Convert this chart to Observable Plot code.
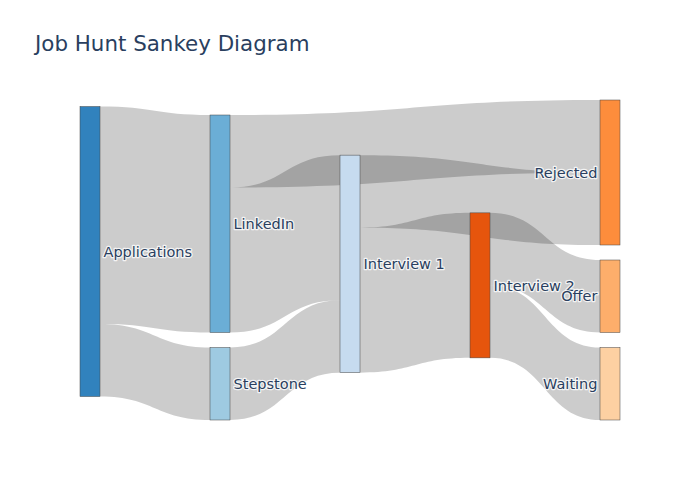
<!DOCTYPE html>
<html>
<head>
<meta charset="utf-8">
<script src="https://cdn.jsdelivr.net/npm/d3@7"></script>
<script src="https://cdn.jsdelivr.net/npm/@observablehq/plot@0.6"></script>
<style>
  body { margin: 0; background: #fff; }
  #wrap { position: relative; width: 700px; height: 500px; }
  #title { position: absolute; left: 35px; top: 31px; font: 21.4px "DejaVu Sans", sans-serif; color: #2a3f5f; }
</style>
</head>
<body>
<div id="wrap">
  <div id="title">Job Hunt Sankey Diagram</div>
  <div id="chart"></div>
</div>
<script>
// nodes and flows
const labels = ["Applications", "LinkedIn", "Stepstone", "Interview 1", "Interview 2", "Rejected", "Offer", "Waiting"];
const colors = ["#3182bd", "#6baed6", "#9ecae1", "#c6dbef", "#e6550d", "#fd8d3c", "#fdae6b", "#fdd0a2"];
const sources = ["Applications", "Applications", "LinkedIn", "LinkedIn", "Stepstone", "Interview 1", "Interview 1", "Interview 2", "Interview 2"];
const targets = ["LinkedIn", "Stepstone", "Rejected", "Interview 1", "Interview 1", "Rejected", "Interview 2", "Offer", "Waiting"];
const values = [15, 5, 5, 10, 5, 5, 10, 5, 5];

// layout (same idea as plotly's d3-sankey): y runs 0..1, x is the column index
const pad = 15 / 320, nodeW = 20 / 130, iterations = 50;

const nodes = labels.map((name, i) => ({name, color: colors[i], sourceLinks: [], targetLinks: []}));
const byName = new Map(nodes.map(n => [n.name, n]));
const links = values.map((value, i) => {
  const l = {source: byName.get(sources[i]), target: byName.get(targets[i]), value, id: i};
  l.source.sourceLinks.push(l);
  l.target.targetLinks.push(l);
  return l;
});
nodes.forEach(n => n.value = Math.max(d3.sum(n.sourceLinks, l => l.value), d3.sum(n.targetLinks, l => l.value)));

// depth, then sinks pushed to the last column
function depth(n) { return n.targetLinks.length ? 1 + d3.max(n.targetLinks, l => depth(l.source)) : 0; }
nodes.forEach(n => n.layer = depth(n));
const last = d3.max(nodes, n => n.layer);
nodes.forEach(n => { if (!n.sourceLinks.length) n.layer = last; });

const columns = d3.range(last + 1).map(k => nodes.filter(n => n.layer === k));
const ky = d3.min(columns, c => (1 - (c.length - 1) * pad) / d3.sum(c, n => n.value));
columns.forEach(c => c.forEach((n, i) => { n.y0 = i; n.y1 = i + n.value * ky; }));
links.forEach(l => l.width = l.value * ky);

const center = n => (n.y0 + n.y1) / 2;
function resolve() {
  columns.forEach(c => {
    c.sort((a, b) => a.y0 - b.y0);
    let y = 0, n;
    for (n of c) {
      const dy = y - n.y0;
      if (dy > 0) { n.y0 += dy; n.y1 += dy; }
      y = n.y1 + pad;
    }
    let dy = y - pad - 1;
    if (dy > 0) {
      n.y0 -= dy; n.y1 -= dy; y = n.y0;
      for (let i = c.length - 2; i >= 0; --i) {
        const m = c[i];
        dy = m.y1 + pad - y;
        if (dy > 0) { m.y0 -= dy; m.y1 -= dy; }
        y = m.y0;
      }
    }
  });
}
resolve();
for (let alpha = 1, k = iterations; k > 0; --k) {
  alpha *= 0.99;
  columns.slice().reverse().forEach(c => c.forEach(n => {
    if (!n.sourceLinks.length) return;
    const dy = (d3.sum(n.sourceLinks, l => center(l.target) * l.value) / d3.sum(n.sourceLinks, l => l.value) - center(n)) * alpha;
    n.y0 += dy; n.y1 += dy;
  }));
  resolve();
  columns.forEach(c => c.forEach(n => {
    if (!n.targetLinks.length) return;
    const dy = (d3.sum(n.targetLinks, l => center(l.source) * l.value) / d3.sum(n.targetLinks, l => l.value) - center(n)) * alpha;
    n.y0 += dy; n.y1 += dy;
  }));
  resolve();
}
nodes.forEach(n => {
  n.sourceLinks.sort((a, b) => a.target.y0 - b.target.y0);
  n.targetLinks.sort((a, b) => a.source.y0 - b.source.y0);
  let y = n.y0;
  n.sourceLinks.forEach(l => { l.sy = y; y += l.width; });
  y = n.y0;
  n.targetLinks.forEach(l => { l.ty = y; y += l.width; });
});

// two points per ribbon, curved with bump-x
const ribbons = links.flatMap(l => [
  {id: l.id, x: l.source.layer + nodeW / 2, top: l.sy, bottom: l.sy + l.width},
  {id: l.id, x: l.target.layer - nodeW / 2, top: l.ty, bottom: l.ty + l.width}
]);
const lastCol = nodes.filter(n => n.layer === last);
const otherCols = nodes.filter(n => n.layer !== last);

const chart = Plot.plot({
  width: 700,
  height: 500,
  margin: 0,
  style: {fontFamily: "DejaVu Sans, sans-serif", background: "white"},
  x: {domain: [0, last], range: [90, 610], axis: null},
  y: {domain: [0, 1], range: [100, 420], axis: null},
  marks: [
    Plot.areaY(ribbons, {x: "x", y1: "top", y2: "bottom", z: "id", curve: "bump-x", fill: "black", fillOpacity: 0.2}),
    Plot.rect(nodes, {
      x1: d => d.layer - nodeW / 2, x2: d => d.layer + nodeW / 2,
      y1: "y0", y2: "y1", fill: "color", stroke: "#444", strokeWidth: 0.5, inset: 0
    }),
    Plot.text(otherCols, {
      x: d => d.layer + nodeW / 2, y: center, text: "name", dx: 3, textAnchor: "start",
      fontSize: 14.5, fill: "#2a3f5f", stroke: "white", strokeWidth: 2.5, strokeOpacity: 0.8
    }),
    Plot.text(lastCol, {
      x: d => d.layer - nodeW / 2, y: center, text: "name", dx: -3, textAnchor: "end",
      fontSize: 14.5, fill: "#2a3f5f", stroke: "white", strokeWidth: 2.5, strokeOpacity: 0.8
    })
  ]
});
d3.select("#chart").append(() => chart);
</script>
</body>
</html>
